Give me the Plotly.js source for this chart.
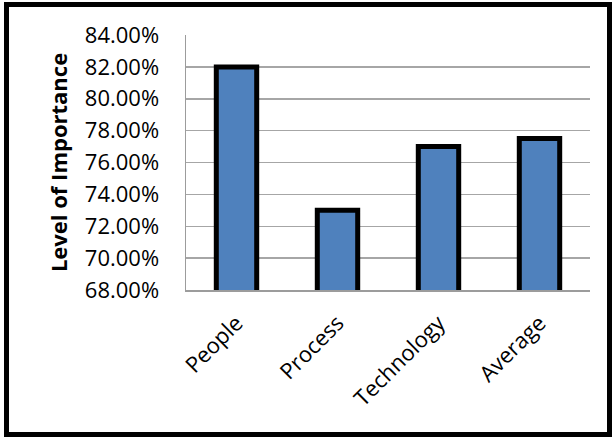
<!DOCTYPE html>
<html>
<head>
<meta charset="utf-8">
<script src="https://cdn.plot.ly/plotly-3.0.1.min.js"></script>
<style>
  html, body { margin: 0; padding: 0; background: #fff; }
  #wrap { position: relative; width: 616px; height: 438px; }
  #chart { position: absolute; left: 0; top: 0; width: 616px; height: 438px; }
  #frame { position: absolute; left: 4px; top: 2px; width: 598px; height: 425px; border: 5px solid #000; pointer-events: none; }
</style>
</head>
<body>
<div id="wrap">
  <div id="chart"></div>
  <div id="frame"></div>
</div>
<script>
const categories = ["People", "Process", "Technology", "Average"];
const importance = [0.82, 0.73, 0.77, 0.775];
const yTitle = "Level of Importance";

const trace = {
  type: "bar",
  x: categories,
  y: importance,
  marker: { color: "#4F81BD", line: { color: "#000000", width: 5 } },
  hoverinfo: "skip"
};

const layout = {
  width: 616,
  height: 438,
  margin: { l: 186, r: 26, t: 35, b: 148, pad: 0 },
  paper_bgcolor: "#ffffff",
  plot_bgcolor: "#ffffff",
  showlegend: false,
  bargap: 0.6,
  font: { family: "Open Sans, sans-serif", color: "#000000" },
  xaxis: {
    type: "category",
    tickangle: -45,
    tickfont: { size: 22, family: "Open Sans, sans-serif", color: "#000" },
    showline: true,
    linecolor: "#9c9c9c",
    linewidth: 1.5,
    ticks: "outside",
    ticklen: 10,
    tickcolor: "rgba(0,0,0,0)",
    showgrid: false,
    fixedrange: true
  },
  yaxis: {
    range: [0.68, 0.84],
    dtick: 0.02,
    tick0: 0.68,
    tickformat: ".2%",
    tickfont: { size: 22, family: "Open Sans, sans-serif", color: "#000" },
    showline: true,
    linecolor: "#9c9c9c",
    linewidth: 1.5,
    showgrid: true,
    gridcolor: "#a6a6a6",
    gridwidth: 1.5,
    zeroline: false,
    ticks: "outside",
    ticklen: 21,
    tickcolor: "rgba(0,0,0,0)",
    title: { text: yTitle, font: { size: 22, family: "Open Sans, sans-serif", weight: "bold", color: "#000" }, standoff: 11 },
    fixedrange: true
  }
};

Plotly.newPlot("chart", [trace], layout, { staticPlot: true, displayModeBar: false });
</script>
</body>
</html>
